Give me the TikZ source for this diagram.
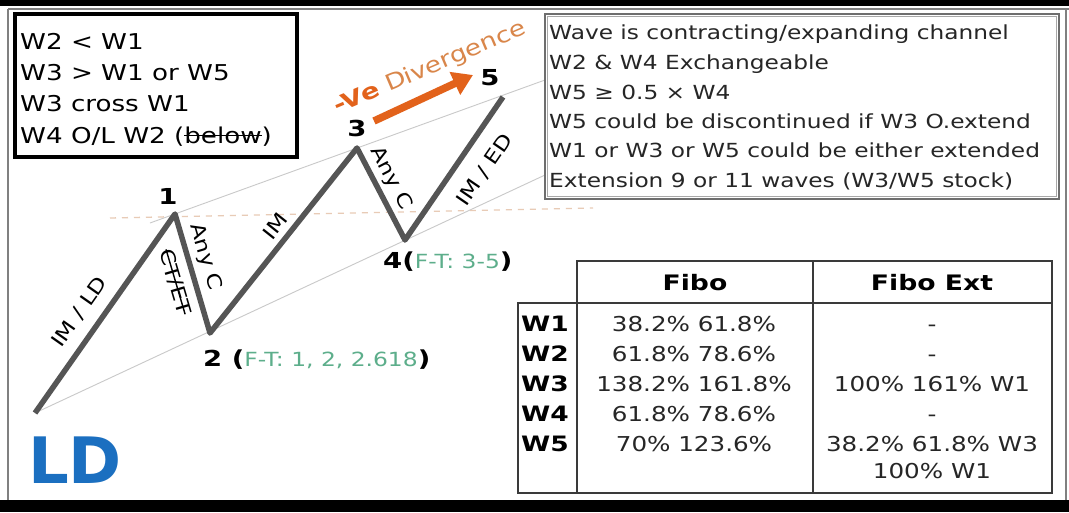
\documentclass[tikz,border=0pt]{standalone}
\usepackage{fontspec}
\setmainfont{DejaVu Sans}[FakeStretch=1.2, BoldFeatures={FakeStretch=1.25}]
\newfontfamily\plainfont{DejaVu Sans}
\usetikzlibrary{arrows.meta}
\definecolor{wave}{HTML}{555555}
\definecolor{chan}{HTML}{C9C9C9}
\definecolor{dashc}{HTML}{E8CBB6}
\definecolor{orng}{HTML}{E2621B}
\definecolor{orngt}{HTML}{D9864A}
\definecolor{ftgreen}{HTML}{5DAE8B}
\definecolor{ldblue}{HTML}{1B6FC0}
\definecolor{boxgray}{HTML}{6E6E6E}
\definecolor{tabline}{HTML}{3A3A3A}
\newcommand{\mystrike}[1]{\setbox0\hbox{#1}\rlap{\raisebox{0.32em}{\rule{\wd0}{1.4pt}}}#1}
\tikzset{
  boxtxt/.style={anchor=base west, inner sep=0pt, font=\fontsize{21.8}{26}\selectfont},
  rtxt/.style={anchor=base west, inner sep=0pt, font=\fontsize{19.4}{23}\selectfont, text=black!85},
  wlab/.style={inner sep=0pt, font=\fontsize{19.5}{22}\selectfont},
  numlab/.style={inner sep=0pt, font=\bfseries\fontsize{22}{26}\selectfont},
  tabtxt/.style={anchor=base, inner sep=0pt, font=\fontsize{20.5}{25}\selectfont, text=black!85},
  tabhead/.style={anchor=base, inner sep=0pt, font=\bfseries\fontsize{21.3}{25}\selectfont},
  rowlab/.style={anchor=base west, inner sep=0pt, font=\bfseries\fontsize{21.2}{25}\selectfont},
}
\begin{document}
\begin{tikzpicture}[x=1pt,y=-1pt]
\useasboundingbox (0,0) rectangle (1069,512);
\fill[white] (0,0) rectangle (1069,512);
% frame
\fill[black] (0,0) rectangle (1069,6);
\fill[black] (0,500) rectangle (1069,512);
\draw[gray, line width=1.5] (8,9) -- (1069,9);
\draw[gray, line width=1.5] (8,9) -- (8,500);
\draw[gray, line width=1.5] (1066,9) -- (1066,500);

% wave points
\coordinate (p0) at (35,413);
\coordinate (p1) at (175,214);
\coordinate (p2) at (210,333);
\coordinate (p3) at (357,148);
\coordinate (p4) at (405,240);
\coordinate (p5) at (503,97);
\coordinate (c1s) at (150,223);
\coordinate (c1e) at (545,80);
\coordinate (c2e) at (545,175);
\coordinate (d1) at (110,218);
\coordinate (d2) at (593,208);

% channel lines
\draw[chan, line width=0.9] (c1s) -- (c1e);
\draw[chan, line width=0.9] (p0) -- (c2e);
\draw[dashc, line width=1.3, dash pattern=on 6pt off 6pt] (d1) -- (d2);

% wave
\draw[wave, line width=5.5, line join=round] (p0) -- (p1) -- (p2) -- (p3) -- (p4) -- (p5);

% wave labels
\node[wlab, rotate=54.9] (lab01) at (80,312) {IM / LD};
\node[wlab, rotate=-73.6] (lab12a) at (205,257) {Any C};
\node[wlab, rotate=-73.6] (lab12b) at (175,282) {\mystrike{CT/ET}};
\node[wlab, rotate=51.5] (lab23) at (275,226) {IM};
\node[wlab, rotate=-62.4] (lab34) at (391,178) {Any C};
\node[wlab, rotate=55.6] (lab45) at (485,170) {IM / ED};

% point numbers
\node[numlab] (n1) at (168,196) {1};
\node[numlab] (n3) at (357,128) {3};
\node[numlab] (n5) at (490,78) {5};
\node[numlab, anchor=base west] (n2) at (203,366) {2 ({\mdseries\fontsize{19.5}{22}\selectfont\color{ftgreen}F-T: 1, 2, 2.618})};
\node[numlab, anchor=base west] (n4) at (383,268) {4({\mdseries\fontsize{19.5}{22}\selectfont\color{ftgreen}F-T: 3-5})};

% divergence
\coordinate (aS) at (374,121);
\coordinate (aE) at (473,75);
\draw[orng, line width=7.5, -{Triangle[length=20,width=24]}] (aS) -- (aE);
\node[inner sep=0pt, rotate=23, font=\fontsize{22}{26}\selectfont, text=orngt] (div) at (430,68) {{\bfseries\color{orng}-Ve} Divergence};

% LD
\node[inner sep=0pt, font=\plainfont\bfseries\fontsize{64}{70}\selectfont, text=ldblue] (ld) at (75,460) {LD};

% left rules box
\draw[black, line width=4] (15,14) rectangle (297,157);
\node[boxtxt] (r1) at (20,49) {W2 < W1};
\node[boxtxt] (r2) at (20,80) {W3 > W1 or W5};
\node[boxtxt] (r3) at (20,111) {W3 cross W1};
\node[boxtxt] (r4) at (20,143) {W4 O/L W2 (\mystrike{below})};

% right notes box
\draw[boxgray, line width=1.3] (545,14) rectangle (1059,199);
\draw[boxgray!60, line width=0.8] (547.5,16.5) rectangle (1056.5,196.5);
\node[rtxt] (t1) at (549,39) {Wave is contracting/expanding channel};
\node[rtxt] (t2) at (549,69) {W2 \& W4 Exchangeable};
\node[rtxt] (t3) at (549,99) {W5 ≥ 0.5 × W4};
\node[rtxt] (t4) at (549,128) {W5 could be discontinued if W3 O.extend};
\node[rtxt] (t5) at (549,157) {W1 or W3 or W5 could be either extended};
\node[rtxt] (t6) at (549,187) {Extension 9 or 11 waves (W3/W5 stock)};

% table
\draw[tabline, line width=1.5] (577,261) rectangle (1052,303);
\draw[tabline, line width=1.5] (518,303) rectangle (1052,493);
\draw[tabline, line width=1.5] (577,303) -- (577,493);
\draw[tabline, line width=1.5] (813,261) -- (813,493);
\node[tabhead] (h1) at (695,290) {Fibo};
\node[tabhead] (h2) at (932,290) {Fibo Ext};
\node[rowlab] (w1) at (521,331) {W1};
\node[rowlab] (w2) at (521,361) {W2};
\node[rowlab] (w3) at (521,391) {W3};
\node[rowlab] (w4) at (521,421) {W4};
\node[rowlab] (w5) at (521,451) {W5};
\node[tabtxt] (f1) at (694,331) {38.2\% 61.8\%};
\node[tabtxt] (f2) at (694,361) {61.8\% 78.6\%};
\node[tabtxt] (f3) at (694,391) {138.2\% 161.8\%};
\node[tabtxt] (f4) at (694,421) {61.8\% 78.6\%};
\node[tabtxt] (f5) at (694,451) {70\% 123.6\%};
\node[tabtxt] (e1) at (932,331) {-};
\node[tabtxt] (e2) at (932,361) {-};
\node[tabtxt] (e3) at (932,391) {100\% 161\% W1};
\node[tabtxt] (e4) at (932,421) {-};
\node[tabtxt] (e5) at (932,451) {38.2\% 61.8\% W3};
\node[tabtxt] (e6) at (932,478) {100\% W1};
\end{tikzpicture}
\end{document}
